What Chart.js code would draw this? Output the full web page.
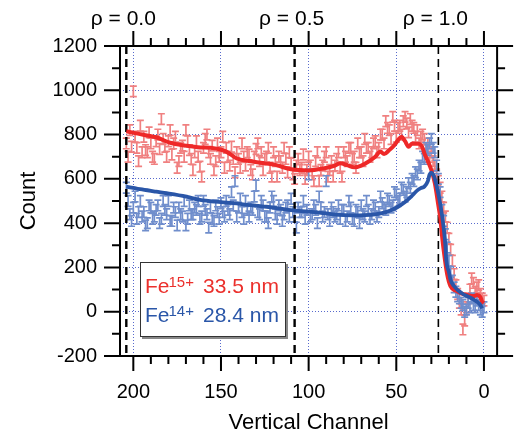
<!DOCTYPE html>
<html>
<head>
<meta charset="utf-8">
<script src="https://cdn.jsdelivr.net/npm/chart.js@4.4.0/dist/chart.umd.min.js"></script>
<style>
  html, body { margin: 0; padding: 0; background: #fff; }
  #wrap { width: 514px; height: 436px; }
</style>
</head>
<body>
<div id="wrap"><canvas id="grafico" width="514" height="436"></canvas></div>
<script>
// canais medidos (pontos com barra de erro), de 204 ate 0
var canais = [
  204, 203, 202, 201, 200, 199, 198, 197, 196, 195,
  194, 193, 192, 191, 190, 189, 188, 187, 186, 185,
  184, 183, 182, 181, 180, 179, 178, 177, 176, 175,
  174, 173, 172, 171, 170, 169, 168, 167, 166, 165,
  164, 163, 162, 161, 160, 159, 158, 157, 156, 155,
  154, 153, 152, 151, 150, 149, 148, 147, 146, 145,
  144, 143, 142, 141, 140, 139, 138, 137, 136, 135,
  134, 133, 132, 131, 130, 129, 128, 127, 126, 125,
  124, 123, 122, 121, 120, 119, 118, 117, 116, 115,
  114, 113, 112, 111, 110, 109, 108, 107, 106, 105,
  104, 103, 102, 101, 100, 99, 98, 97, 96, 95,
  94, 93, 92, 91, 90, 89, 88, 87, 86, 85,
  84, 83, 82, 81, 80, 79, 78, 77, 76, 75,
  74, 73, 72, 71, 70, 69, 68, 67, 66, 65,
  64, 63, 62, 61, 60, 59, 58, 57, 56, 55,
  54, 53, 52, 51, 50, 49, 48, 47, 46, 45,
  44, 43, 42, 41, 40, 39, 38, 37, 36, 35,
  34, 33, 32, 31, 30, 29, 28, 27, 26, 25,
  24, 23, 22, 21, 20, 19, 18, 17, 16, 15,
  14, 13, 12, 11, 10, 9, 8, 7, 6, 5,
  4, 3, 2, 1, 0];

var contagemFe15 = [
  760, 700, 820, 745, 995, 790, 740, 680, 840, 720,
  790, 730, 720, 810, 760, 700, 690, 770, 800, 735,
  870, 780, 745, 700, 770, 820, 710, 760, 790, 650,
  680, 740, 750, 700, 820, 770, 730, 690, 640, 720,
  770, 700, 655, 610, 740, 780, 800, 720, 690, 750,
  640, 680, 760, 700, 720, 790, 650, 740, 700, 660,
  745, 690, 630, 720, 690, 650, 760, 700, 660, 720,
  710, 640, 620, 700, 735, 760, 680, 720, 640, 690,
  700, 740, 650, 610, 720, 680, 610, 700, 680, 650,
  740, 690, 630, 720, 670, 620, 600, 660, 690, 640,
  650, 710, 600, 640, 700, 660, 620, 590, 680, 720,
  590, 640, 660, 700, 720, 610, 640, 680, 610, 660,
  690, 720, 650, 610, 720, 700, 680, 740, 740, 690,
  700, 650, 760, 720, 720, 680, 780, 740, 740, 700,
  720, 760, 770, 720, 740, 800, 800, 760, 860, 830,
  820, 780, 880, 840, 790, 830, 840, 800, 860, 880,
  850, 810, 870, 840, 830, 790, 820, 760, 790, 800,
  780, 730, 760, 700, 720, 680, 660, 620, 590, 560,
  520, 470, 430, 380, 330, 280, 230, 170, 120, 80,
  40, 10, -80, -40, 20, 60, 100, 150, 130, 90,
  110, 120, 80, 60, 50];

var contagemFe14 = [
  560, 500, 440, 410, 470, 520, 420, 450, 500, 430,
  450, 390, 400, 480, 470, 420, 430, 460, 480, 400,
  420, 500, 460, 440, 500, 410, 410, 470, 450, 390,
  470, 440, 430, 500, 390, 420, 480, 440, 440, 470,
  460, 500, 420, 430, 500, 460, 440, 380, 470, 420,
  410, 480, 450, 420, 490, 450, 430, 500, 460, 440,
  540, 480, 590, 430, 470, 510, 450, 420, 500, 460,
  430, 470, 460, 520, 570, 450, 440, 500, 480, 430,
  430, 400, 470, 520, 500, 440, 420, 480, 460, 410,
  440, 470, 480, 430, 510, 450, 430, 380, 470, 450,
  450, 500, 420, 460, 620, 430, 440, 480, 460, 400,
  520, 470, 430, 450, 590, 440, 410, 470, 450, 430,
  440, 480, 420, 460, 460, 410, 430, 500, 470, 420,
  410, 460, 450, 400, 480, 440, 430, 500, 460, 420,
  440, 480, 470, 430, 450, 520, 490, 470, 460, 510,
  500, 470, 480, 540, 530, 500, 510, 560, 550, 520,
  540, 580, 560, 600, 590, 630, 620, 660, 650, 700,
  690, 740, 730, 760, 780, 740, 720, 660, 600, 540,
  460, 410, 350, 290, 230, 180, 140, 110, 90, 70,
  60, 40, 30, 0, 10, 40, 20, 60, 30, 20,
  50, 30, 10, 0, 20];

var erroFe15 = 24;
var erroFe14 = 24;

// curvas do modelo
var canaisModeloFe15 = [204, 195, 187, 179, 170, 162, 156, 147, 141, 134, 125, 119, 110, 100, 91, 85, 82, 78, 74, 70,
  66, 62, 59, 57, 54, 51, 49, 47, 45, 43, 41, 37, 35, 34, 32, 30, 28, 26, 25, 24, 23, 21, 19, 16, 13, 9, 6, 4, 2, 1, 0];
var modeloFe15 = [815, 800, 788, 763, 750, 742, 740, 723, 692, 681, 670, 663, 643, 638, 648, 660, 670, 662, 652, 660,
  677, 700, 723, 712, 730, 753, 775, 790, 770, 745, 760, 758, 740, 716, 680, 640, 580, 480, 429, 350, 280, 170, 114, 95, 83, 75, 71, 75, 65, 45, 40];

var canaisModeloFe14 = [204, 195, 187, 181, 170, 162, 150, 143, 135, 124, 110, 100, 90, 83, 75, 68, 62, 56, 52, 49,
  45, 41.5, 38, 36, 34, 32, 31, 30, 29, 28, 26.5, 25, 24, 23, 22, 21.5, 20, 19, 17, 15, 12, 9, 6, 4, 2, 1];
var modeloFe14 = [565, 552, 542, 535, 520, 505, 495, 490, 483, 474, 459, 452, 444, 437, 435, 436, 440, 450, 462, 474,
  495, 520, 548, 558, 565, 590, 620, 628, 620, 600, 550, 490, 440, 380, 300, 234, 180, 143, 115, 98, 80, 68, 56, 45, 30, 15];

var ticksX = [200, 150, 100, 50, 0];
var linhasRho = [204, 108, 26];
var rotulosRho = ['\u03c1 = 0.0', '\u03c1 = 0.5', '\u03c1 = 1.0'];

var corPontoVermelho = 'rgb(240,128,128)';
var corPontoAzul = 'rgb(112,142,204)';
var corLinhaVermelha = 'rgb(238,40,40)';
var corLinhaAzul = 'rgb(42,86,168)';
var corGrade = 'rgba(70,90,200,0.9)';
var fonte = '"Liberation Sans", Arial, sans-serif';

function pares(xs, ys) {
  return xs.map(function(v, i) { return { x: v, y: ys[i] }; });
}

function desenharBarras(chart, indice, erro, cor) {
  var ctx = chart.ctx;
  var escalaY = chart.scales.y;
  var meta = chart.getDatasetMeta(indice);
  var dados = chart.data.datasets[indice].data;
  ctx.save();
  ctx.strokeStyle = cor;
  ctx.lineWidth = 1.7;
  meta.data.forEach(function(p, k) {
    var v = dados[k].y;
    var y1 = escalaY.getPixelForValue(v + erro);
    var y2 = escalaY.getPixelForValue(v - erro);
    ctx.beginPath();
    ctx.moveTo(p.x, y1); ctx.lineTo(p.x, y2);
    ctx.moveTo(p.x - 3.5, y1); ctx.lineTo(p.x + 3.5, y1);
    ctx.moveTo(p.x - 3.5, y2); ctx.lineTo(p.x + 3.5, y2);
    ctx.stroke();
  });
  ctx.restore();
}

var pluginDesenho = {
  id: 'desenho',
  beforeDatasetsDraw: function(chart) {
    var ctx = chart.ctx, area = chart.chartArea, escalaX = chart.scales.x;
    ctx.save();
    ctx.beginPath();
    ctx.rect(area.left, area.top, area.right - area.left, area.bottom - area.top);
    ctx.clip();
    desenharBarras(chart, 2, erroFe15, corPontoVermelho);
    desenharBarras(chart, 3, erroFe14, corPontoAzul);

    ctx.strokeStyle = '#000';
    ctx.setLineDash([8, 5]);
    linhasRho.forEach(function(c, i) {
      var px = escalaX.getPixelForValue(c);
      ctx.lineWidth = i == 2 ? 1.6 : 2.4;
      ctx.beginPath();
      ctx.moveTo(px, area.top);
      ctx.lineTo(px, area.bottom);
      ctx.stroke();
    });
    ctx.restore();
  },
  afterDraw: function(chart) {
    var ctx = chart.ctx, area = chart.chartArea;
    var escalaX = chart.scales.x, escalaY = chart.scales.y;
    ctx.save();

    // legenda
    ctx.fillStyle = '#888';
    ctx.fillRect(142, 264, 146, 75);
    ctx.fillStyle = '#fff';
    ctx.fillRect(140, 262, 146, 75);
    ctx.strokeStyle = '#333';
    ctx.lineWidth = 1;
    ctx.strokeRect(140.5, 262.5, 145, 74);

    var linhasLegenda = [
      { cor: 'rgb(235,48,44)', sup: '15+', texto: '33.5 nm', base: 293 },
      { cor: 'rgb(42,86,168)', sup: '14+', texto: '28.4 nm', base: 321.5 }
    ];
    ctx.textBaseline = 'alphabetic';
    ctx.textAlign = 'left';
    linhasLegenda.forEach(function(l) {
      ctx.fillStyle = l.cor;
      ctx.font = '21px ' + fonte;
      ctx.fillText('Fe', 145, l.base);
      ctx.font = '15px ' + fonte;
      ctx.fillText(l.sup, 168.5, l.base - 6);
      ctx.font = '21px ' + fonte;
      ctx.fillText(l.texto, 203, l.base);
    });

    // moldura
    ctx.strokeStyle = '#000';
    ctx.lineWidth = 2;
    ctx.strokeRect(area.left, area.top, area.right - area.left, area.bottom - area.top);

    // marcas dos eixos
    ctx.beginPath();
    for (var c = 0; c <= 200; c += 10) {
      var px = escalaX.getPixelForValue(c);
      var tam = (c % 50 == 0) ? 15 : 8;
      ctx.moveTo(px, area.bottom); ctx.lineTo(px, area.bottom + tam);
      ctx.moveTo(px, area.top); ctx.lineTo(px, area.top - tam);
    }
    for (var v = -200; v <= 1200; v += 100) {
      var py = escalaY.getPixelForValue(v);
      var tamY = (v % 200 == 0) ? 16 : 8;
      ctx.moveTo(area.left, py); ctx.lineTo(area.left - tamY, py);
      ctx.moveTo(area.right, py); ctx.lineTo(area.right + tamY, py);
    }
    ctx.stroke();

    // rotulos rho
    ctx.fillStyle = '#000';
    ctx.font = '21px ' + fonte;
    ctx.textAlign = 'center';
    linhasRho.forEach(function(c, i) {
      ctx.fillText(rotulosRho[i], escalaX.getPixelForValue(c) - 3, 24.5);
    });
    ctx.restore();
  }
};

new Chart(document.getElementById('grafico').getContext('2d'), {
  type: 'scatter',
  data: {
    datasets: [
      {
        label: 'modelo Fe14',
        type: 'line',
        data: pares(canaisModeloFe14, modeloFe14),
        borderColor: corLinhaAzul,
        borderWidth: 3.8,
        pointRadius: 0,
        fill: false,
        cubicInterpolationMode: 'monotone'
      },
      {
        label: 'modelo Fe15',
        type: 'line',
        data: pares(canaisModeloFe15, modeloFe15),
        borderColor: corLinhaVermelha,
        borderWidth: 4,
        pointRadius: 0,
        fill: false,
        cubicInterpolationMode: 'monotone'
      },
      {
        label: 'Fe15+',
        data: pares(canais, contagemFe15),
        pointRadius: 0,
        showLine: false
      },
      {
        label: 'Fe14+',
        data: pares(canais, contagemFe14),
        pointRadius: 0,
        showLine: false
      }
    ]
  },
  options: {
    responsive: false,
    animation: false,
    devicePixelRatio: 1,
    layout: { padding: { left: 0, right: 14, top: 46, bottom: 0 } },
    plugins: {
      legend: { display: false },
      tooltip: { enabled: false }
    },
    scales: {
      x: {
        type: 'linear',
        reverse: true,
        min: -7.5,
        max: 207.6,
        afterBuildTicks: function(s) { s.ticks = ticksX.map(function(v) { return { value: v }; }); },
        afterFit: function(s) { s.height = 80; },
        grid: { color: corGrade, lineWidth: 1, drawTicks: false },
        border: { display: false, dash: [1, 2] },
        ticks: { color: '#000', font: { family: fonte, size: 20 }, padding: 24, maxRotation: 0, autoSkip: false },
        title: { display: true, text: 'Vertical Channel', color: '#000', font: { family: fonte, size: 22 }, padding: { top: 4, bottom: 0 } }
      },
      y: {
        min: -200,
        max: 1200,
        afterFit: function(s) { s.width = 120; },
        grid: { color: corGrade, lineWidth: 1, drawTicks: false },
        border: { display: false, dash: [1, 2] },
        ticks: {
          stepSize: 200, color: '#000', font: { family: fonte, size: 20 }, padding: 23,
          callback: function(v) { return String(v); }
        },
        title: { display: true, text: 'Count', color: '#000', font: { family: fonte, size: 22 }, padding: { top: 16, bottom: 0 } }
      }
    }
  },
  plugins: [pluginDesenho]
});
</script>
</body>
</html>
